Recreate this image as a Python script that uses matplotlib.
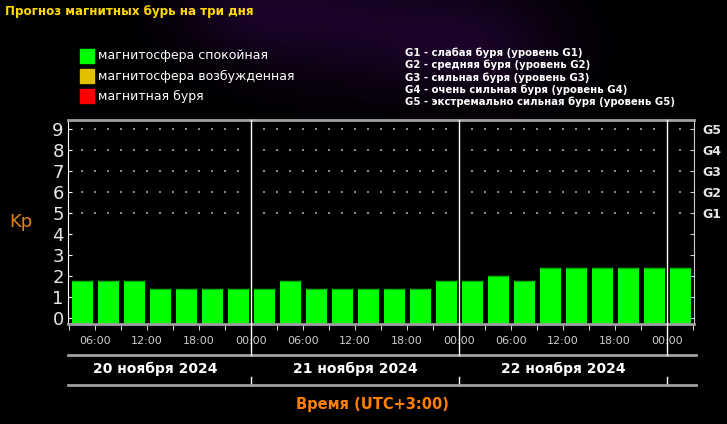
import numpy as np
import matplotlib
matplotlib.use("Agg")
import matplotlib.pyplot as plt
from matplotlib.patches import Rectangle

plt.rcParams['font.family'] = ['DejaVu Sans']

# forecast Kp per 3-hour slot, starting 20 Nov 03:00 (UTC+3)
slot_start = np.arange(3, 75, 3)  # hours from 20 Nov 00:00
kp = [1.75, 1.75, 1.75, 1.35, 1.35, 1.35, 1.35,
      1.35, 1.75, 1.35, 1.35, 1.35, 1.35, 1.35, 1.75,
      1.75, 2.0, 1.75, 2.35, 2.35, 2.35, 2.35, 2.35,
      2.35]
time_ticks = [6, 12, 18, 24, 30, 36, 42, 48, 54, 60, 66, 72]
time_labels = ["06:00", "12:00", "18:00", "00:00"] * 3
day_bounds = [24, 48, 72]
day_labels = ["20 ноября 2024", "21 ноября 2024", "22 ноября 2024"]
day_centers = [13, 36, 60]
g_labels = ["G1", "G2", "G3", "G4", "G5"]
g_text = ["G1 - слабая буря (уровень G1)",
          "G2 - средняя буря (уровень G2)",
          "G3 - сильная буря (уровень G3)",
          "G4 - очень сильная буря (уровень G4)",
          "G5 - экстремально сильная буря (уровень G5)"]
legend_items = [("магнитосфера спокойная", "#00ff00"),
                ("магнитосфера возбужденная", "#e0c000"),
                ("магнитная буря", "#ff0000")]

W, H = 727, 424
fig = plt.figure(figsize=(W / 100, H / 100), dpi=100, facecolor="black")

# faint purple glow in the background
bg = fig.add_axes([0, 0, 1, 1], zorder=-5)
yy, xx = np.mgrid[0:H, 0:W]
glow = (0.45 * np.exp(-(((xx - 340) / 120.0) ** 2 + ((yy - 20) / 65.0) ** 2))
        + 0.4 * np.exp(-(((xx - 480) / 90.0) ** 2 + ((yy - 45) / 55.0) ** 2))
        + 0.25 * np.exp(-(((xx - 240) / 70.0) ** 2 + ((yy - 10) / 40.0) ** 2)))
img = np.zeros((H, W, 3))
img[..., 0] = 0.20 * glow
img[..., 1] = 0.03 * glow
img[..., 2] = 0.30 * glow
bg.imshow(img, aspect="auto", extent=(0, W, H, 0))
bg.set_xlim(0, W)
bg.set_ylim(H, 0)
bg.axis("off")

def px(x, y):
    return x / W, 1 - y / H

# title
fig.text(*px(5, 12), "Прогноз магнитных бурь на три дня", color="#ffd800",
         fontsize=8.6, fontweight="bold", va="center", ha="left")

# legend (left)
for i, (txt, col) in enumerate(legend_items):
    yc = 56 + i * 20
    fig.patches.append(Rectangle(px(80, yc + 7), 14 / W, 14 / H, color=col,
                                 transform=fig.transFigure, figure=fig))
    fig.text(*px(98, yc), txt, color="white", fontsize=9,
             va="center", ha="left")

# G levels legend (right)
for i, txt in enumerate(g_text):
    fig.text(*px(405, 53 + i * 12.2), txt, color="white", fontsize=7.3,
             fontweight="bold", va="center", ha="left")

ymin, ymax = -0.3, 9.43
ax = fig.add_axes([68 / W, 1 - 324 / H, (694 - 68) / W, 204 / H])
ax.set_facecolor("black")
ax.set_xlim(2.88, 75.1)
ax.set_ylim(ymin, ymax)

heights = np.array(kp) - ymin
ax.bar(slot_start + 1.5, heights, bottom=ymin, width=2.42, color="#00ff00",
       zorder=2)
ax.hlines(kp, slot_start + 0.29, slot_start + 2.71, color="#00b400", lw=1,
          zorder=3)

# dotted grid for storm levels
dot_x = np.arange(4.5, 75, 1.5)
dot_x = dot_x[~np.isin(dot_x, day_bounds)]
for lev in range(5, 10):
    ax.scatter(dot_x, np.full(len(dot_x), lev), s=0.7, color="#8a8a8a",
               marker="s", linewidths=0, zorder=1)

for sp in ["top", "bottom"]:
    ax.spines[sp].set_color("#a0a0a0")
    ax.spines[sp].set_linewidth(2)
ax.spines["left"].set_color("white")
ax.spines["right"].set_color("#cfcfcf")

ax.set_yticks(range(10))
ax.tick_params(axis="y", direction="in", length=3, color="white",
               labelcolor="#e6e6e6", labelsize=13, pad=3)
ax.set_xticks(np.arange(3, 76, 3))
ax.set_xticklabels([])
ax.tick_params(axis="x", direction="out", length=4, color="#cfcfcf")
for t, lab in zip(time_ticks, time_labels):
    ax.text(t, -0.083, lab, transform=ax.get_xaxis_transform(), ha="center",
            va="center", color="#cccccc", fontsize=8)

ax2 = ax.twinx()
ax2.set_ylim(ymin, ymax)
ax2.set_yticks(range(10))
ax2.set_yticklabels([""] * 5 + g_labels)
ax2.tick_params(axis="y", direction="in", length=3, color="#cfcfcf",
                labelcolor="#e6e6e6", labelsize=9, pad=6)
for lab in ax2.get_yticklabels():
    lab.set_fontweight("bold")
for sp in ax2.spines.values():
    sp.set_visible(False)

ax.set_ylabel("Kp", color="#e8820c", fontsize=13, rotation=0, labelpad=14,
              va="center")
ax.yaxis.set_label_coords(-0.075, 0.5)

# day separators and lower date band
xt = ax.get_xaxis_transform()
for d in day_bounds:
    ax.plot([d, d], [1, -0.152], color="white", lw=1, transform=xt,
            clip_on=False, zorder=4)
    ax.plot([d, d], [-0.262, -0.3], color="white", lw=1, transform=xt,
            clip_on=False)
for yl in [-0.152, -0.3]:
    ax.plot([0, 1.003], [yl, yl], color="#a0a0a0", lw=2,
            transform=ax.transAxes, clip_on=False)
for c, lab in zip(day_centers, day_labels):
    ax.text(c, -0.221, lab, transform=xt, ha="center", va="center",
            color="white", fontsize=10, fontweight="bold")

fig.text(*px(372, 405), "Время (UTC+3:00)", color="#ff8000", fontsize=10.5,
         fontweight="bold", ha="center", va="center")

fig.savefig("out.png", dpi=100, facecolor="black")
